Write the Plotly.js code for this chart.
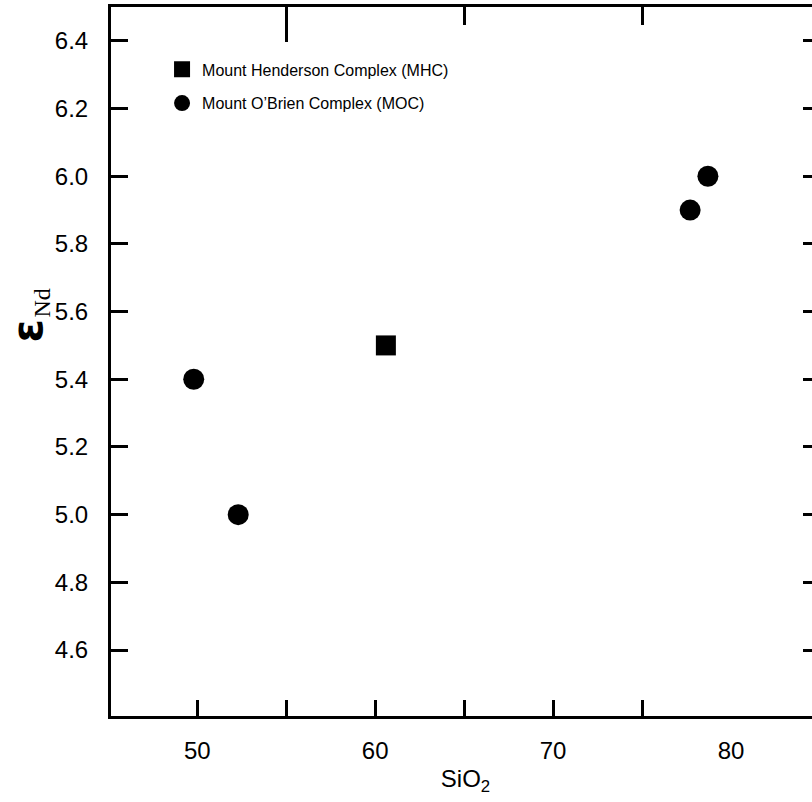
<!DOCTYPE html>
<html>
<head>
<meta charset="utf-8">
<script src="https://cdn.plot.ly/plotly-3.0.1.min.js"></script>
<style>
html, body { margin: 0; padding: 0; overflow: hidden; background: #fff; }
#chart { width: 820px; height: 802px; }
</style>
</head>
<body>
<div id="chart"></div>
<script>
// Data
const mhcName = "Mount Henderson Complex (MHC)";
const mhcSiO2 = [60.6];
const mhcEps = [5.5];

const mocName = "Mount O\u2019Brien Complex (MOC)";
const mocSiO2 = [49.8, 52.3, 77.7, 78.7];
const mocEps = [5.4, 5.0, 5.9, 6.0];

const xLabelVals = [50, 60, 70, 80];
const xLabelText = ["50", "60", "70", "80"];
const xBottomTickVals = [50, 55, 60, 65, 70, 75];
const xTopTickVals = [65, 75];
const xTopLongTickVals = [55];
const yTickVals = [4.6, 4.8, 5.0, 5.2, 5.4, 5.6, 5.8, 6.0, 6.2, 6.4];
const yTickText = ["4.6", "4.8", "5.0", "5.2", "5.4", "5.6", "5.8", "6.0", "6.2", "6.4"];

const xRange = [45.15, 85];
const yRange = [4.405, 6.5];
const FONT = "Liberation Sans, Arial, Helvetica, sans-serif";

const traces = [
  {
    x: mhcSiO2, y: mhcEps, name: mhcName, type: "scatter", mode: "markers",
    marker: { symbol: "square", size: 20, color: "#000" },
    legendgroup: "a", xaxis: "x", yaxis: "y"
  },
  {
    x: mocSiO2, y: mocEps, name: mocName, type: "scatter", mode: "markers",
    marker: { symbol: "circle", size: 21, color: "#000" },
    legendgroup: "b", xaxis: "x", yaxis: "y"
  },
  { x: [], y: [], xaxis: "x2", yaxis: "y", showlegend: false, hoverinfo: "skip" },
  { x: [], y: [], xaxis: "x3", yaxis: "y", showlegend: false, hoverinfo: "skip" },
  { x: [], y: [], xaxis: "x4", yaxis: "y", showlegend: false, hoverinfo: "skip" }
];

const hiddenX = {
  range: xRange, showgrid: false, zeroline: false, showticklabels: false,
  ticks: "inside", tickwidth: 3, tickcolor: "#000", overlaying: "x", anchor: "y"
};

const layout = {
  width: 820, height: 802,
  margin: { l: 111, r: 0, t: 7, b: 86 },
  paper_bgcolor: "#fff", plot_bgcolor: "#fff",
  font: { family: FONT, color: "#000", size: 24 },
  showlegend: true,
  legend: {
    x: 0.072, y: 0.936, xanchor: "left", yanchor: "top",
    bgcolor: "rgba(0,0,0,0)", borderwidth: 0,
    font: { family: FONT, size: 16, color: "#000" },
    traceorder: "grouped", tracegroupgap: 10
  },
  xaxis: {
    range: xRange, showgrid: false, zeroline: false,
    showline: true, linecolor: "#000", linewidth: 3,
    tickvals: xLabelVals, ticktext: xLabelText, ticks: "",
    tickfont: { family: FONT, size: 24, color: "#000" },
    ticklabelstandoff: 11,
    title: { text: "SiO<sub>2</sub>", font: { family: FONT, size: 24, color: "#000" }, standoff: 8 }
  },
  xaxis2: Object.assign({}, hiddenX, { side: "bottom", tickvals: xBottomTickVals, ticklen: 16 }),
  xaxis3: Object.assign({}, hiddenX, {
    side: "top", tickvals: xTopTickVals, ticklen: 18,
    showline: true, linecolor: "#000", linewidth: 3
  }),
  xaxis4: Object.assign({}, hiddenX, { side: "top", tickvals: xTopLongTickVals, ticklen: 35 }),
  yaxis: {
    range: yRange, showgrid: false, zeroline: false,
    showline: true, linecolor: "#000", linewidth: 3, mirror: "ticks",
    tickvals: yTickVals, ticktext: yTickText,
    ticks: "inside", ticklen: 17, tickwidth: 3, tickcolor: "#000",
    tickfont: { family: FONT, size: 24, color: "#000" },
    ticklabelstandoff: 15
  },
  annotations: [
    {
      text: "<b>\u03b5</b>", textangle: -90, showarrow: false,
      xref: "paper", yref: "paper", x: -0.1178, y: 0.543,
      xanchor: "center", yanchor: "middle",
      font: { family: "DejaVu Sans, sans-serif", size: 42, color: "#000" }
    },
    {
      text: "Nd", textangle: -90, showarrow: false,
      xref: "paper", yref: "paper", x: -0.097, y: 0.582,
      xanchor: "center", yanchor: "middle",
      font: { family: "Liberation Serif, Times New Roman, serif", size: 24, color: "#000" }
    }
  ]
};

Plotly.newPlot("chart", traces, layout, { displayModeBar: false, staticPlot: true });
</script>
</body>
</html>
